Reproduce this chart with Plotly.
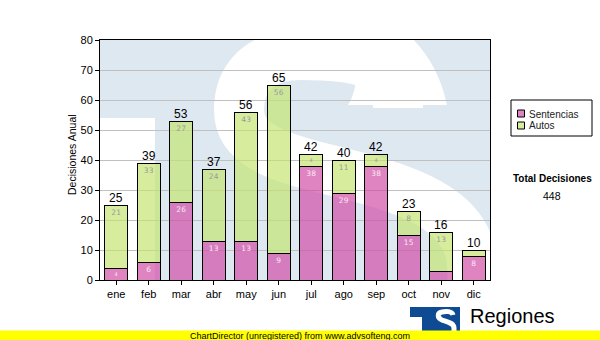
import plotly.graph_objects as go

# Monthly decisions
meses = ["ene", "feb", "mar", "abr", "may", "jun", "jul", "ago", "sep", "oct", "nov", "dic"]
sentencias = [4, 6, 26, 13, 13, 9, 38, 29, 38, 15, 3, 8]
autos = [21, 33, 27, 24, 43, 56, 4, 11, 4, 8, 13, 2]
y_ticks = [0, 10, 20, 30, 40, 50, 60, 70, 80]

totales = [s + a for s, a in zip(sentencias, autos)]
total_decisiones = sum(totales)

W, H = 600, 340
L, R, T, B = 100, 110, 40, 60
PW, PH = W - L - R, H - T - B
X_MIN, X_MAX = -0.5, len(meses) - 0.5
Y_MIN, Y_MAX = 0, 80

PINK = "rgba(208,72,164,0.68)"
GREEN = "rgba(196,228,110,0.68)"
WM_BLUE = "#dee8f1"
LOGO_BLUE = "#0f4b93"


def dx(px):
    return X_MIN + (px - L) / PW * (X_MAX - X_MIN)


def dy(py):
    return Y_MIN + (T + PH - py) / PH * (Y_MAX - Y_MIN)


def ppx(px):
    return (px - L) / PW


def ppy(py):
    return (T + PH - py) / PH


def path(segs, fx, fy, close=False):
    out = []
    for cmd, pts in segs:
        out.append(cmd + " " + " ".join(f"{fx(a):.4f},{fy(b):.4f}" for a, b in pts))
    s = " ".join(out)
    return s + " Z" if close else s


def label_if_fits(vals, minimum=4):
    return [str(v) if v >= minimum else "" for v in vals]


def text_at(px, py, text, size, family="Liberation Sans", color="black",
            xanchor="center", **kw):
    return dict(x=ppx(px), y=ppy(py), xref="paper", yref="paper", text=text,
                xanchor=xanchor, yanchor="middle", showarrow=False,
                font=dict(family=family, size=size, color=color), **kw)


fig = go.Figure()

fig.add_trace(go.Bar(
    x=list(range(len(meses))), y=sentencias, name="Sentencias",
    marker=dict(color=PINK, line=dict(color="black", width=1)),
    text=label_if_fits(sentencias), textposition="inside", insidetextanchor="end",
    textangle=0, textfont=dict(family="DejaVu Sans", size=7.5, color="#fbe6f4"),
    hoverinfo="skip",
))
fig.add_trace(go.Bar(
    x=list(range(len(meses))), y=autos, name="Autos",
    marker=dict(color=GREEN, line=dict(color="black", width=1)),
    text=label_if_fits(autos), textposition="inside", insidetextanchor="end",
    textangle=0, textfont=dict(family="DejaVu Sans", size=7.5, color="#9a9a9a"),
    hoverinfo="skip",
))

shapes = []
# watermark: white gap under the T bar and the white S stroke
shapes.append(dict(type="rect", xref="x", yref="y", layer="below",
                   x0=dx(100), x1=dx(155), y0=dy(118), y1=dy(290),
                   fillcolor="white", line=dict(width=0)))
s_stroke = [("M", [(398, 108)]),
            ("C", [(398, 62), (360, 55), (300, 55)]),
            ("C", [(258, 55), (239, 80), (239, 110)]),
            ("C", [(239, 150), (290, 160), (350, 175)]),
            ("C", [(420, 192), (468, 215), (472, 262)]),
            ("L", [(474, 330)])]
shapes.append(dict(type="path", xref="x", yref="y", layer="below",
                   path=path(s_stroke, dx, dy),
                   line=dict(color="white", width=50)))
s_term = [("M", [(348, 105)]), ("L", [(447, 105)]),
          ("C", [(440, 70), (420, 40), (395, 25)]),
          ("L", [(340, 25)]),
          ("C", [(360, 55), (360, 85), (348, 105)])]
shapes.append(dict(type="path", xref="x", yref="y", layer="below",
                   path=path(s_term, dx, dy, close=True),
                   fillcolor="white", line=dict(width=0)))

# legend box
shapes.append(dict(type="rect", xref="paper", yref="paper",
                   x0=ppx(511), x1=ppx(592), y0=ppy(136), y1=ppy(100),
                   fillcolor="white", line=dict(color="black", width=1)))
for yc, col in [(113.5, PINK), (125.5, GREEN)]:
    shapes.append(dict(type="rect", xref="paper", yref="paper",
                       x0=ppx(517.5), x1=ppx(524.5), y0=ppy(yc + 3.5), y1=ppy(yc - 3.5),
                       fillcolor=col, line=dict(color="black", width=1)))

# bottom logo
shapes.append(dict(type="rect", xref="paper", yref="paper",
                   x0=ppx(410), x1=ppx(434), y0=ppy(317), y1=ppy(307),
                   fillcolor=LOGO_BLUE, line=dict(width=0)))
shapes.append(dict(type="rect", xref="paper", yref="paper",
                   x0=ppx(422), x1=ppx(460), y0=ppy(334), y1=ppy(307),
                   fillcolor=LOGO_BLUE, line=dict(width=0)))
logo_s = [("M", [(453, 315)]),
          ("C", [(452, 311), (446, 311), (442, 312)]),
          ("C", [(437, 313), (437, 318), (442, 320)]),
          ("C", [(448, 322), (454, 323), (454, 328)]),
          ("L", [(454, 334)])]
shapes.append(dict(type="path", xref="paper", yref="paper",
                   path=path(logo_s, ppx, ppy),
                   line=dict(color="white", width=5)))

# unregistered banner
shapes.append(dict(type="rect", xref="paper", yref="paper",
                   x0=ppx(0), x1=ppx(600), y0=ppy(340), y1=ppy(330.5),
                   fillcolor="#ffff00", line=dict(width=0), layer="above"))

annotations = []
for i, t in enumerate(totales):
    annotations.append(dict(x=i, y=t, xref="x", yref="y", text=str(t), showarrow=False,
                            xanchor="center", yanchor="bottom", yshift=-2,
                            font=dict(family="Liberation Sans", size=12, color="black")))

annotations += [
    text_at(72, 155, "Decisiones Anual", 10.5, textangle=-90),
    text_at(527, 114, "Sentencias", 10, color="#222222", xanchor="left"),
    text_at(527, 126, "Autos", 10, color="#222222", xanchor="left"),
    text_at(552, 178, "<b>Total Decisiones</b>", 10),
    text_at(552, 196, str(total_decisiones), 10.5),
    text_at(468, 316, "Regiones", 20, xanchor="left"),
    text_at(300, 335.5, "ChartDirector (unregistered) from www.advsofteng.com", 9),
]

fig.update_layout(
    width=W, height=H,
    margin=dict(l=L, r=R, t=T, b=B, pad=0),
    paper_bgcolor="white", plot_bgcolor=WM_BLUE,
    barmode="stack", bargap=0.28,
    showlegend=False,
    shapes=shapes, annotations=annotations,
    xaxis=dict(range=[X_MIN, X_MAX], tickmode="array",
               tickvals=list(range(len(meses))), ticktext=meses,
               ticks="outside", ticklen=4, tickcolor="black",
               showline=True, linecolor="black", linewidth=1, mirror=True,
               showgrid=False, zeroline=False, fixedrange=True,
               tickfont=dict(family="Liberation Sans", size=11, color="black")),
    yaxis=dict(range=[Y_MIN, Y_MAX], tickmode="array", tickvals=y_ticks,
               ticks="outside", ticklen=4, tickcolor="black",
               showline=True, linecolor="black", linewidth=1, mirror=True,
               showgrid=True, gridcolor="#c0c0c0", gridwidth=1,
               zeroline=False, fixedrange=True,
               tickfont=dict(family="Liberation Sans", size=11, color="black")),
)

fig.write_html("out.html", config={"displayModeBar": False})
